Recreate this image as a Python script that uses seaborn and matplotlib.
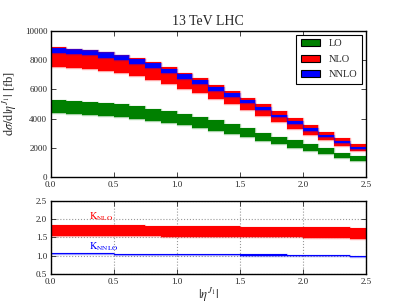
import matplotlib
matplotlib.use("Agg")
import matplotlib.pyplot as plt
from matplotlib.patches import Patch
import seaborn as sns

# bin edges in |eta^J1|
edges = [0.0, 0.125, 0.25, 0.375, 0.5, 0.625, 0.75, 0.875, 1.0, 1.125, 1.25,
         1.375, 1.5, 1.625, 1.75, 1.875, 2.0, 2.125, 2.25, 2.375, 2.5]

# d sigma / d|eta| bands [fb]
lo_low = [4390, 4330, 4260, 4190, 4113, 3977, 3863, 3727, 3545, 3363,
          3181, 2954, 2726, 2499, 2294, 2021, 1794, 1567, 1317, 1089]
lo_high = [5250, 5200, 5150, 5091, 4977, 4864, 4682, 4522, 4318, 4113,
           3886, 3613, 3340, 3044, 2772, 2544, 2272, 1976, 1680, 1453]
nlo_low = [7547, 7478, 7410, 7274, 7115, 6933, 6637, 6387, 6046, 5728,
           5318, 4977, 4568, 4159, 3750, 3318, 2886, 2544, 2135, 1771]
nlo_high = [8870, 8780, 8710, 8580, 8370, 8120, 7830, 7501, 7137, 6751,
            6319, 5887, 5432, 5000, 4523, 4022, 3568, 3113, 2681, 2249]
nnlo_low = [8501, 8411, 8320, 8160, 8001, 7751, 7456, 7137, 6728, 6364,
            5909, 5477, 5046, 4591, 4091, 3658, 3181, 2726, 2317, 1930]
nnlo_high = [8820, 8729, 8661, 8525, 8320, 8070, 7774, 7410, 7024, 6614,
             6182, 5728, 5273, 4818, 4272, 3840, 3340, 2886, 2476, 2089]

# K-factors
knlo_low = [1.55, 1.55, 1.55, 1.54, 1.54, 1.53, 1.53, 1.52, 1.52, 1.51,
            1.51, 1.51, 1.50, 1.50, 1.50, 1.50, 1.49, 1.49, 1.49, 1.46]
knlo_high = [1.84, 1.84, 1.84, 1.83, 1.83, 1.83, 1.82, 1.82, 1.81, 1.81,
             1.80, 1.80, 1.79, 1.79, 1.79, 1.78, 1.78, 1.78, 1.78, 1.77]
knnlo_low = [1.04, 1.04, 1.04, 1.04, 1.03, 1.03, 1.03, 1.03, 1.02, 1.02,
             1.02, 1.02, 1.01, 1.01, 1.01, 1.00, 1.00, 1.00, 1.00, 0.96]
knnlo_high = [1.07, 1.07, 1.07, 1.07, 1.06, 1.06, 1.06, 1.06, 1.05, 1.05,
              1.05, 1.05, 1.04, 1.04, 1.04, 1.03, 1.03, 1.03, 1.03, 0.99]

labels = ["LO", "NLO", "NNLO"]
colors = ["green", "red", "blue"]

sns.set_style("ticks")
plt.rcParams["font.family"] = "serif"
plt.rcParams["font.serif"] = ["Liberation Serif", "DejaVu Serif"]
plt.rcParams["mathtext.fontset"] = "stix"
plt.rcParams["xtick.direction"] = "in"
plt.rcParams["ytick.direction"] = "in"
plt.rcParams["xtick.top"] = True
plt.rcParams["ytick.right"] = True
plt.rcParams["axes.edgecolor"] = "black"
plt.rcParams["axes.linewidth"] = 1.0


def step_band(ax, low, high, color):
    lo = low + [low[-1]]
    hi = high + [high[-1]]
    ax.fill_between(edges, lo, hi, step="post", color=color, lw=0)
    sns.lineplot(x=edges, y=lo, drawstyle="steps-post", color=color,
                 alpha=0.35, lw=1.0, ax=ax)
    sns.lineplot(x=edges, y=hi, drawstyle="steps-post", color=color,
                 alpha=0.35, lw=1.0, ax=ax)


fig = plt.figure(figsize=(4.07, 3.05), dpi=100)
ax1 = fig.add_axes([0.1246, 0.4187, 0.774, 0.4807])
ax2 = fig.add_axes([0.1246, 0.1007, 0.774, 0.2413])

step_band(ax1, lo_low, lo_high, "green")
step_band(ax1, nlo_low, nlo_high, "red")
step_band(ax1, nnlo_low, nnlo_high, "blue")

ax1.set_xlim(0, 2.5)
ax1.set_ylim(0, 10000)
ax1.set_xticks([0.0, 0.5, 1.0, 1.5, 2.0, 2.5])
ax1.set_yticks([0, 2000, 4000, 6000, 8000, 10000])
ax1.set_title("13 TeV LHC", fontsize=10, pad=4)
ax1.set_ylabel(r"$\mathrm{d}\sigma/\mathrm{d}|\eta^{J_1}|$ [fb]", fontsize=9)
ax1.tick_params(labelsize=6.5, length=3.5, width=0.6, pad=2.5)

handles = [Patch(facecolor=c, edgecolor="black", lw=0.8) for c in colors]
leg = ax1.legend(handles, labels, loc="upper right", fontsize=7.5,
                 fancybox=False, framealpha=1, edgecolor="black",
                 borderaxespad=0.4, handlelength=1.9, handleheight=0.7,
                 labelspacing=0.6)
leg.get_frame().set_linewidth(0.8)

step_band(ax2, knlo_low, knlo_high, "red")
step_band(ax2, knnlo_low, knnlo_high, "blue")
ax2.set_xlim(0, 2.5)
ax2.set_ylim(0.5, 2.5)
ax2.set_xticks([0.0, 0.5, 1.0, 1.5, 2.0, 2.5])
ax2.set_yticks([0.5, 1.0, 1.5, 2.0, 2.5])
ax2.grid(True, linestyle=":", color="#999999", lw=0.8)
ax2.tick_params(labelsize=6.5, length=3.5, width=0.6, pad=2.5)
ax2.set_xlabel(r"$|\eta^{J_1}|$", fontsize=9, labelpad=0)
ax2.text(0.3, 2.07, r"$\mathrm{K}_{\mathrm{NLO}}$", color="red",
         fontsize=7.5, va="center", ha="left")
ax2.text(0.3, 1.25, r"$\mathrm{K}_{\mathrm{NNLO}}$", color="blue",
         fontsize=7.5, va="center", ha="left")

fig.savefig("out.png", dpi=100)
